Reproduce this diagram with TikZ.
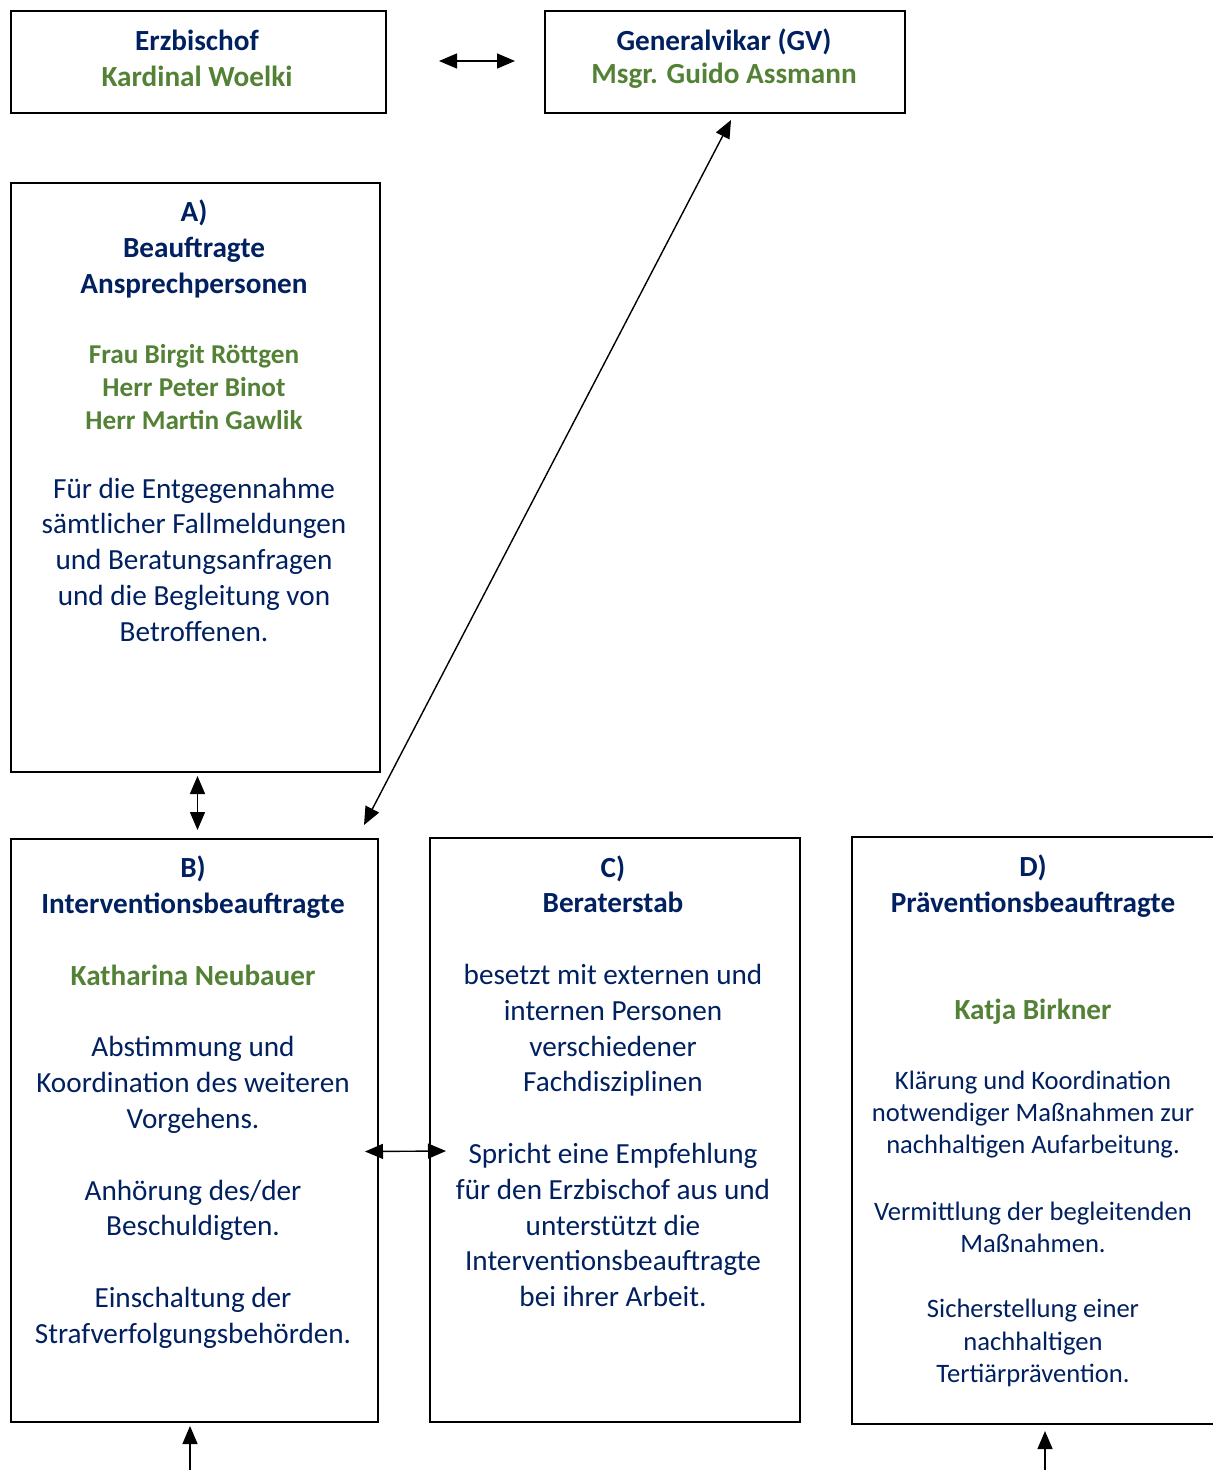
\documentclass[tikz,border=0pt]{standalone}
\usepackage{fontspec}
\setmainfont{Carlito}
\usetikzlibrary{positioning}
\usetikzlibrary{arrows.meta}
\definecolor{navy}{RGB}{0,32,96}
\definecolor{leaf}{RGB}{83,129,53}

\tikzset{
  box/.style={draw, line width=1pt, inner sep=0pt},
  txt/.style={anchor=mid, yshift=-2.8pt, inner sep=0pt},
  head/.style={txt, font=\fontsize{14.6}{17}\selectfont\bfseries, text=navy},
  person/.style={txt, font=\fontsize{13.6}{16}\selectfont\bfseries, text=leaf},
  bigperson/.style={txt, font=\fontsize{14.6}{17}\selectfont\bfseries, text=leaf},
  body/.style={txt, font=\fontsize{14.6}{17}\selectfont, text=navy},
  smallbody/.style={txt, font=\fontsize{13.3}{16}\selectfont, text=navy},
  link/.style={line width=0.7pt, {Triangle[length=9pt,width=7.5pt]}-{Triangle[length=9pt,width=7.5pt]}},
  feed/.style={line width=0.7pt, -{Triangle[length=9pt,width=7.5pt]}}
}

\begin{document}
\begin{tikzpicture}[x=0.5pt, y=-0.5pt]

  \useasboundingbox (0,0) rectangle (1212,1470);

  % boxes
  \node[box, minimum width=187.5pt, minimum height=51pt, anchor=north west] (erz) at (10,10) {};
  \node[box, minimum width=180pt, minimum height=51pt, anchor=north west] (gv) at (544,10) {};
  \node[box, minimum width=184.5pt, minimum height=294.5pt, anchor=north west] (a) at (10,182) {};
  \node[box, minimum width=183.5pt, minimum height=291.5pt, anchor=north west] (b) at (10,838) {};
  \node[box, minimum width=185pt, minimum height=292pt, anchor=north west] (c) at (429,837) {};
  \node[box, minimum width=184pt, minimum height=293.5pt, anchor=north west] (d) at (851,836) {};

  % top row
  \node[head] (erz-1) at (197,40) {Erzbischof};
  \node[bigperson] (erz-2) at (197,76) {Kardinal Woelki};
  \node[head] (gv-1) at (724,40) {Generalvikar (GV)};
  \node[bigperson] (gv-2) at (724,73) {Msgr. Guido Assmann};

  % A)
  \node[head] (a-1) at (194,211) {A)};
  \node[head] (a-2) at (194,247) {Beauftragte};
  \node[head] (a-3) at (194,283) {Ansprechpersonen};
  \foreach \t [count=\i] in {Frau Birgit Röttgen, Herr Peter Binot, Herr Martin Gawlik}
    \node[person] (a-n\i) at (194,320+33*\i) {\t};
  \foreach \t [count=\i] in {Für die Entgegennahme, sämtlicher Fallmeldungen,
      und Beratungsanfragen, und die Begleitung von, Betroffenen.}
    \node[body] (a-b\i) at (194,452+35.8*\i) {\t};

  % B)
  \node[head] (b-1) at (193,867) {B)};
  \node[head] (b-2) at (193,903) {Interventionsbeauftragte};
  \node[bigperson] (b-3) at (193,975) {Katharina Neubauer};
  \foreach \t/\y [count=\i] in {Abstimmung und/1046, Koordination des weiteren/1082,
      Vorgehens./1118, {Anhörung des/der}/1190, Beschuldigten./1225,
      Einschaltung der/1297, Strafverfolgungsbehörden./1333}
    \node[body] (b-b\i) at (193,\y) {\t};

  % C)
  \node[head] (c-1) at (613,867) {C)};
  \node[head] (c-2) at (613,902) {Beraterstab};
  \foreach \t/\y [count=\i] in {besetzt mit externen und/974, internen Personen/1010,
      verschiedener/1046, Fachdisziplinen/1081, Spricht eine Empfehlung/1153,
      für den Erzbischof aus und/1189, unterstützt die/1225,
      Interventionsbeauftragte/1260, bei ihrer Arbeit./1296}
    \node[body] (c-b\i) at (613,\y) {\t};

  % D)
  \node[head] (d-1) at (1033,866) {D)};
  \node[head] (d-2) at (1033,902) {Präventionsbeauftragte};
  \node[bigperson] (d-3) at (1033,1009) {Katja Birkner};
  \foreach \t/\y [count=\i] in {Klärung und Koordination/1079, notwendiger Maßnahmen zur/1111,
      nachhaltigen Aufarbeitung./1143, Vermittlung der begleitenden/1210,
      Maßnahmen./1242, Sicherstellung einer/1307, nachhaltigen/1340,
      Tertiärprävention./1372}
    \node[smallbody] (d-b\i) at (1033,\y) {\t};

  % connectors
  \draw[link] ([shift={(52,-1)}]erz.east) -- ([shift={(-29,-1)}]gv.west);
  \draw[link] ([shift={(6,6)}]gv.south) -- ([shift={(-15,-13)}]b.north east);
  \draw[link] ([shift={(2,3)}]a.south) -- ([shift={(3,-8)}]b.north);
  \draw[link] ([shift={(-14,21)}]b.east) -- ([shift={(17,21)}]c.west);

  \coordinate (b-in) at (190,1470);
  \coordinate (d-in) at (1045,1470);
  \draw[feed] (b-in) -- ([yshift=-1.5pt]b-in |- b.south);
  \draw[feed] (d-in) -- ([yshift=-3pt]d-in |- d.south);

\end{tikzpicture}
\end{document}
